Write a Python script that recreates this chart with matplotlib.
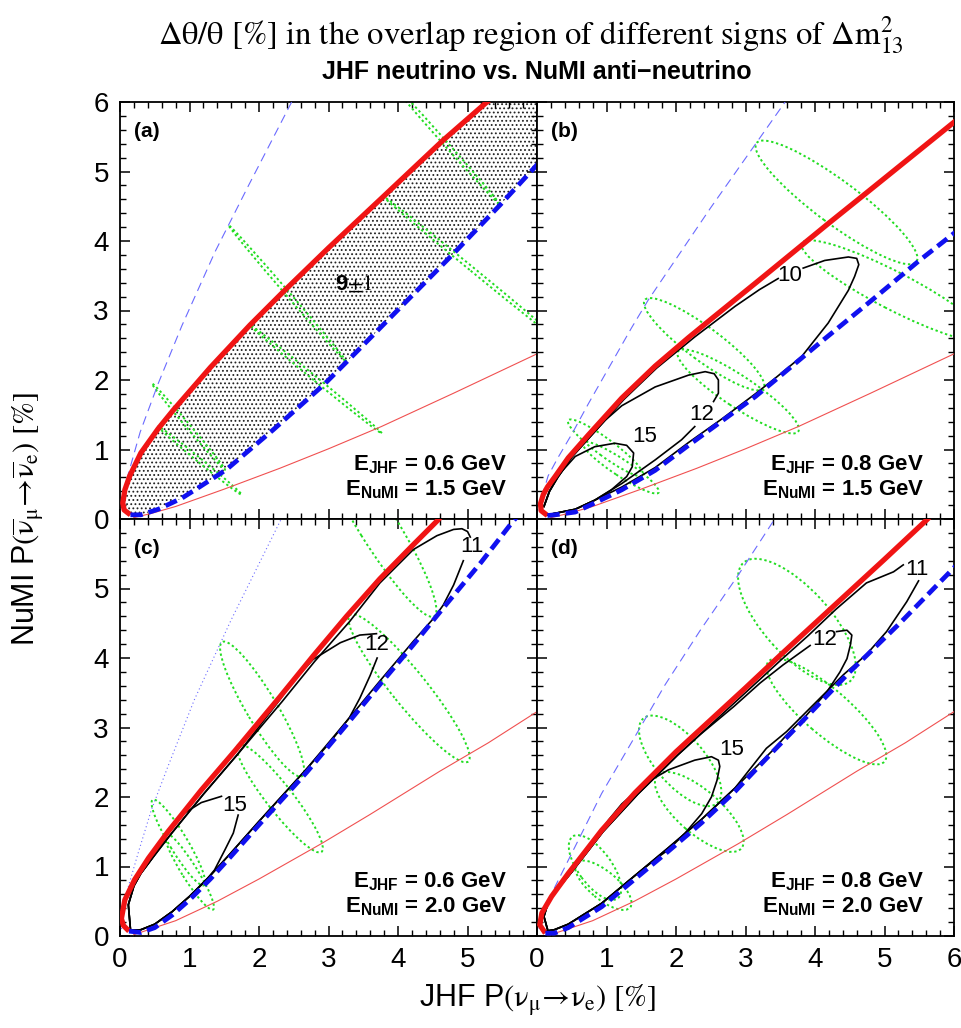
import numpy as np
import matplotlib
matplotlib.use('Agg')
import matplotlib.pyplot as plt
from matplotlib.patches import Ellipse, Polygon
from matplotlib.ticker import MultipleLocator

plt.rcParams['font.family'] = ['Liberation Sans', 'DejaVu Sans']
plt.rcParams['mathtext.fontset'] = 'custom'
plt.rcParams['mathtext.rm'] = 'Liberation Sans'
plt.rcParams['mathtext.bf'] = 'Liberation Sans:bold'
plt.rcParams['mathtext.it'] = 'Liberation Sans:italic'
plt.rcParams['hatch.linewidth'] = 0.8
NARROW = ['Liberation Sans Narrow', 'Liberation Sans', 'DejaVu Sans']
nan = np.nan

# ---------------- data ----------------
# panel (a): E_JHF = 0.6 GeV, E_NuMI = 1.5 GeV
a_red_x = [0.15, 0.06, 0.04, 0.07, 0.14, 0.30, 0.55, 0.77, 1.30, 1.87, 2.37, 3.00, 3.79, 4.65, 5.28, 5.34]
a_red_y = [0.06, 0.13, 0.23, 0.42, 0.62, 0.95, 1.30, 1.57, 2.18, 2.79, 3.29, 3.90, 4.64, 5.45, 6.00, 6.05]
a_blue_x = [0.15, 0.30, 0.55, 0.89, 1.08, 1.53, 2.20, 2.93, 3.26, 4.00, 4.80, 5.47, 6.05]
a_blue_y = [0.06, 0.06, 0.14, 0.30, 0.42, 0.71, 1.28, 1.93, 2.26, 3.01, 3.82, 4.52, 5.15]
a_thin_blue_x = [0.03, 0.12, 0.29, 0.55, 0.89, 1.37, 1.85, 2.47, 2.55]
a_thin_blue_y = [0.15, 0.65, 1.25, 1.95, 2.78, 3.85, 4.80, 6.00, 6.15]
# degenerate CP "ellipses" (x1, y1, x2, y2, minor axis)
a_ellipses = [(3.85, 6.34, 5.47, 4.52, 0.06), (3.79, 4.64, 6.34, 2.55, 0.06),
              (1.56, 4.23, 3.26, 2.26, 0.06), (1.87, 2.79, 3.77, 1.23, 0.06),
              (0.46, 1.95, 1.51, 0.71, 0.06), (0.55, 1.33, 1.75, 0.35, 0.06)]

# thin red curve, E_NuMI = 1.5 GeV (panels a, b)
thin_red15_x = [0.20, 0.45, 0.80, 1.50, 2.30, 3.00, 3.76, 4.80, 6.05]
thin_red15_y = [0.02, 0.08, 0.18, 0.43, 0.73, 1.01, 1.33, 1.81, 2.40]
# thin red curve, E_NuMI = 2.0 GeV (panels c, d)
thin_red20_x = [0.20, 0.80, 1.40, 2.00, 2.90, 3.60, 4.60, 5.30, 6.05]
thin_red20_y = [0.02, 0.22, 0.50, 0.82, 1.33, 1.75, 2.37, 2.78, 3.26]

# panel (b): E_JHF = 0.8 GeV, E_NuMI = 1.5 GeV
b_red_x = [0.15, 0.06, 0.05, 0.09, 0.15, 0.26, 0.45, 0.74, 1.22, 1.70, 2.18, 2.51, 3.20, 4.19, 4.70, 6.05]
b_red_y = [0.05, 0.12, 0.22, 0.35, 0.46, 0.61, 0.88, 1.21, 1.74, 2.20, 2.61, 2.88, 3.44, 4.25, 4.66, 5.75]
b_blue_x = [0.15, 0.26, 0.55, 0.83, 1.22, 1.70, 2.18, 2.66, 3.14, 3.43, 4.10, 4.82, 5.49, 6.05]
b_blue_y = [0.05, 0.06, 0.10, 0.23, 0.42, 0.70, 1.06, 1.41, 1.76, 2.00, 2.56, 3.15, 3.71, 4.15]
b_thin_blue_x = [0.03, 0.08, 0.16, 0.30, 0.50, 0.74, 1.07, 1.36, 1.60, 2.50, 3.57, 3.65]
b_thin_blue_y = [0.12, 0.35, 0.62, 0.88, 1.22, 1.66, 2.24, 2.75, 3.15, 4.48, 6.00, 6.12]
b_ellipses = [(3.16, 5.41, 5.46, 3.70, 0.62), (3.81, 3.97, 6.45, 2.60, 0.54),
              (1.55, 3.15, 3.26, 1.88, 0.48), (2.03, 2.41, 3.76, 1.26, 0.45),
              (0.45, 1.42, 1.52, 0.63, 0.25), (0.66, 1.10, 1.75, 0.38, 0.24)]
b_c10_x = [0.10, 0.18, 0.30, 0.50, 0.78, 1.25, 1.72, 2.27, 2.85, 3.20, 3.47, nan,
           3.83, 4.14, 4.48, 4.60, 4.63, 4.57, 4.48, 4.19, 3.81, 3.42, 3.14, 2.66, 2.18, 1.70, 1.22, 0.83, 0.55, 0.30, 0.15]
b_c10_y = [0.18, 0.40, 0.60, 0.89, 1.20, 1.72, 2.17, 2.62, 3.06, 3.30, 3.46, nan,
           3.61, 3.72, 3.77, 3.75, 3.66, 3.49, 3.29, 2.82, 2.34, 2.02, 1.80, 1.44, 1.10, 0.74, 0.46, 0.27, 0.14, 0.09, 0.06]
b_c12_x = [0.10, 0.18, 0.30, 0.50, 0.78, 0.98, 1.22, 1.70, 2.18, 2.42, 2.55, 2.61, 2.61, 2.54, nan,
           2.27, 2.08, 1.70, 1.22, 0.83, 0.55, 0.30, 0.15]
b_c12_y = [0.18, 0.40, 0.60, 0.89, 1.20, 1.42, 1.63, 1.90, 2.07, 2.12, 2.09, 2.00, 1.81, 1.69, nan,
           1.33, 1.14, 0.85, 0.51, 0.27, 0.14, 0.09, 0.06]
b_c15_x = [0.10, 0.18, 0.30, 0.55, 0.83, 1.12, 1.29, 1.39, 1.37, 1.29, 1.07, 0.83, 0.55, 0.30, 0.15]
b_c15_y = [0.18, 0.40, 0.62, 0.90, 1.04, 1.09, 1.06, 0.95, 0.75, 0.61, 0.42, 0.27, 0.14, 0.09, 0.06]
b_labels = [('10', 3.64, 3.51), ('12', 2.37, 1.50), ('15', 1.55, 1.18)]

# panel (c): E_JHF = 0.6 GeV, E_NuMI = 2.0 GeV
c_red_x = [0.13, 0.05, 0.02, 0.07, 0.21, 0.41, 0.69, 1.17, 1.65, 2.30, 2.78, 3.26, 3.74, 4.22, 4.58, 4.63]
c_red_y = [0.07, 0.15, 0.25, 0.52, 0.81, 1.12, 1.50, 2.10, 2.66, 3.44, 4.03, 4.60, 5.14, 5.63, 5.99, 6.05]
c_blue_x = [0.13, 0.30, 0.50, 0.75, 1.00, 1.30, 1.60, 2.00, 2.69, 3.26, 3.74, 4.22, 4.70, 5.19, 5.61, 5.70]
c_blue_y = [0.07, 0.05, 0.12, 0.30, 0.52, 0.82, 1.15, 1.60, 2.36, 3.04, 3.62, 4.19, 4.78, 5.37, 5.91, 6.02]
c_thin_blue_x = [0.02, 0.04, 0.12, 0.26, 0.45, 0.69, 1.07, 1.60, 2.30, 2.35]
c_thin_blue_y = [0.10, 0.33, 0.71, 1.19, 1.81, 2.44, 3.40, 4.55, 5.96, 6.06]
c_ellipses = [(2.89, 7.22, 4.52, 4.60, 0.55), (3.31, 4.62, 5.01, 2.51, 0.50),
              (1.47, 4.23, 2.62, 2.30, 0.44), (1.70, 2.75, 2.90, 1.21, 0.38),
              (0.47, 1.96, 1.21, 0.73, 0.26), (0.66, 1.47, 1.34, 0.38, 0.22)]
c_c11_x = [0.15, 0.12, 0.20, 0.30, 0.45, 0.72, 1.20, 1.68, 2.33, 2.80, 3.30, 3.74, 4.22, 4.56, 4.80, 4.92, 5.00, 5.04, nan,
           4.94, 4.80, 4.65, 4.52, 4.22, 3.74, 3.26, 2.69, 2.00, 1.60, 1.30, 1.00, 0.75, 0.50, 0.30, 0.15]
c_c11_y = [0.10, 0.45, 0.72, 0.90, 1.10, 1.45, 2.04, 2.60, 3.37, 3.95, 4.52, 5.08, 5.56, 5.76, 5.85, 5.86, 5.82, 5.74, nan,
           5.40, 5.05, 4.76, 4.58, 4.24, 3.67, 3.09, 2.41, 1.65, 1.20, 0.87, 0.57, 0.35, 0.17, 0.09, 0.08]
c_c12_x = [0.15, 0.12, 0.20, 0.30, 0.45, 0.72, 1.20, 1.68, 2.30, 2.45, 2.78, 3.17, 3.45, 3.69, nan,
           3.70, 3.60, 3.45, 3.30, 3.00, 2.69, 2.00, 1.60, 1.30, 1.00, 0.75, 0.50, 0.30, 0.15]
c_c12_y = [0.10, 0.45, 0.72, 0.90, 1.10, 1.45, 2.04, 2.60, 3.40, 3.62, 3.98, 4.22, 4.33, 4.35, nan,
           4.00, 3.75, 3.42, 3.14, 2.76, 2.41, 1.65, 1.20, 0.87, 0.57, 0.35, 0.17, 0.09, 0.08]
c_c15_x = [0.15, 0.12, 0.20, 0.30, 0.45, 0.62, 0.74, 0.93, 1.17, 1.46, nan,
           1.70, 1.63, 1.51, 1.36, 1.22, 1.00, 0.75, 0.50, 0.30, 0.15]
c_c15_y = [0.10, 0.45, 0.72, 0.90, 1.10, 1.36, 1.58, 1.77, 1.92, 2.01, nan,
           1.74, 1.48, 1.24, 0.95, 0.78, 0.57, 0.35, 0.17, 0.09, 0.08]
c_labels = [('11', 5.06, 5.60), ('12', 3.69, 4.19), ('15', 1.65, 1.88)]

# panel (d): E_JHF = 0.8 GeV, E_NuMI = 2.0 GeV
d_red_x = [0.12, 0.04, 0.07, 0.21, 0.45, 0.93, 1.41, 2.00, 2.50, 3.00, 3.50, 4.00, 4.50, 5.00, 5.61, 5.67]
d_red_y = [0.04, 0.16, 0.33, 0.57, 0.90, 1.52, 2.06, 2.65, 3.11, 3.57, 4.04, 4.50, 4.96, 5.42, 5.99, 6.05]
d_blue_x = [0.12, 0.25, 0.45, 0.93, 1.41, 1.89, 2.37, 2.85, 3.42, 3.78, 4.50, 5.22, 6.05]
d_blue_y = [0.04, 0.04, 0.12, 0.42, 0.82, 1.22, 1.63, 2.08, 2.68, 3.05, 3.80, 4.50, 5.35]
d_thin_blue_x = [0.03, 0.09, 0.26, 0.55, 0.93, 1.41, 1.84, 2.35, 2.90, 3.42, 3.50]
d_thin_blue_y = [0.10, 0.33, 0.71, 1.29, 2.05, 2.87, 3.61, 4.40, 5.20, 6.00, 6.12]
d_ellipses = [(2.97, 5.37, 4.51, 3.67, 0.95), (3.33, 3.95, 5.00, 2.51, 0.65),
              (1.53, 3.13, 2.59, 1.91, 0.70), (1.73, 2.31, 2.94, 1.26, 0.62),
              (0.51, 1.43, 1.16, 0.54, 0.48), (0.57, 1.05, 1.34, 0.41, 0.40)]
d_c11_x = [0.15, 0.10, 0.16, 0.30, 0.50, 0.95, 1.45, 2.02, 2.52, 3.02, 3.52, 3.90, 4.30, 4.74, 5.13, 5.27, nan,
           5.49, 5.32, 5.03, 4.74, 4.41, 4.02, 3.59, 3.30, 2.85, 2.37, 1.89, 1.41, 0.93, 0.45, 0.25, 0.12]
d_c11_y = [0.10, 0.28, 0.48, 0.68, 0.92, 1.50, 2.04, 2.60, 3.06, 3.52, 3.98, 4.32, 4.70, 5.08, 5.24, 5.34, nan,
           5.11, 4.81, 4.38, 4.05, 3.76, 3.37, 2.94, 2.70, 2.13, 1.68, 1.27, 0.87, 0.47, 0.17, 0.09, 0.07]
d_c12_x = [0.15, 0.10, 0.16, 0.30, 0.50, 0.95, 1.45, 2.02, 2.35, 2.83, 3.21, 3.54, 3.93, nan,
           4.31, 4.46, 4.53, 4.51, 4.46, 4.36, 4.17, 3.88, 3.59, 3.40, 2.85, 2.37, 1.89, 1.41, 0.93, 0.45, 0.25, 0.12]
d_c12_y = [0.10, 0.28, 0.48, 0.68, 0.92, 1.50, 2.04, 2.60, 2.90, 3.30, 3.64, 3.90, 4.18, nan,
           4.38, 4.40, 4.33, 4.19, 3.99, 3.80, 3.51, 3.18, 2.89, 2.68, 2.13, 1.68, 1.27, 0.87, 0.47, 0.17, 0.09, 0.07]
d_c15_x = [0.15, 0.10, 0.16, 0.30, 0.50, 0.80, 1.03, 1.22, 1.55, 1.89, 2.27, 2.51, 2.61, 2.63, 2.59, 2.51, 2.37,
           2.13, 1.89, 1.75, 1.41, 0.93, 0.45, 0.25, 0.12]
d_c15_y = [0.10, 0.28, 0.48, 0.68, 0.92, 1.34, 1.67, 1.90, 2.19, 2.39, 2.53, 2.58, 2.53, 2.44, 2.24, 2.00, 1.76,
           1.48, 1.24, 1.14, 0.87, 0.47, 0.17, 0.09, 0.07]
d_labels = [('11', 5.46, 5.27), ('12', 4.14, 4.26), ('15', 2.80, 2.68)]

panel_names = ['(a)', '(b)', '(c)', '(d)']
e_jhf = ['0.6', '0.8', '0.6', '0.8']
e_numi = ['1.5', '1.5', '2.0', '2.0']

# ---------------- styles ----------------
RED = '#f01414'
BLUE = '#1010f0'
THINBLUE = '#6a6aff'
THINRED = '#f05050'
GREEN = '#22dd22'

fig = plt.figure(figsize=(9.61, 10.28), dpi=100)
W, H = 961.0, 1028.0
pw = 417.0
lefts = [120.0, 537.0, 120.0, 537.0]
tops = [102.0, 102.0, 519.0, 519.0]
axes = []
for l, t in zip(lefts, tops):
    ax = fig.add_axes([l / W, 1 - (t + pw) / H, pw / W, pw / H])
    axes.append(ax)


def style_axis(ax, xlabels, ylabels):
    ax.set_xlim(0, 6)
    ax.set_ylim(0, 6)
    ax.xaxis.set_minor_locator(MultipleLocator(0.2))
    ax.yaxis.set_minor_locator(MultipleLocator(0.2))
    ax.tick_params(which='both', direction='in', top=True, right=True,
                   labelsize=20, pad=8)
    ax.tick_params(which='major', length=7.5, width=1.1)
    ax.tick_params(which='minor', length=4, width=1.0)
    ax.set_xticks(range(7))
    ax.set_yticks(range(7))
    ax.set_xticklabels(xlabels, family=NARROW)
    ax.set_yticklabels(ylabels, family=NARROW)
    for s in ax.spines.values():
        s.set_linewidth(1.3)


full = [str(i) for i in range(7)]
nolast = [str(i) for i in range(6)] + ['']
empty = [''] * 7
style_axis(axes[0], empty, full)
style_axis(axes[1], empty, empty)
style_axis(axes[2], nolast, nolast)
style_axis(axes[3], full, empty)


def add_ellipses(ax, ells):
    for x1, y1, x2, y2, mn in ells:
        cx, cy = (x1 + x2) / 2, (y1 + y2) / 2
        length = np.hypot(x2 - x1, y2 - y1)
        ang = np.degrees(np.arctan2(y2 - y1, x2 - x1))
        e = Ellipse((cx, cy), length, mn, angle=ang, fill=False,
                    edgecolor=GREEN, lw=1.4, linestyle=(0, (1.2, 1.4)), zorder=2)
        ax.add_patch(e)


def main_curves(ax, rx, ry, bx, by, tbx, tby, trx, try_, thin_style):
    ax.plot(tbx, tby, color=THINBLUE, lw=0.8, linestyle=thin_style, zorder=3)
    ax.plot(trx, try_, color=THINRED, lw=0.8, zorder=3)
    ax.plot(rx, ry, color=RED, lw=3.8, solid_capstyle='butt', solid_joinstyle='round', zorder=5)
    ax.plot(bx, by, color=BLUE, lw=3.4, linestyle=(0, (2.6, 1.3)), zorder=6)


def contours(ax, curves, labels):
    for cx, cy in curves:
        ax.plot(cx, cy, color='black', lw=1.2, zorder=4)
    for txt, x, y in labels:
        ax.text(x, y, txt, fontsize=16, ha='center', va='center', zorder=7)


# panel (a) shading between the two thick curves
poly_x = list(a_red_x) + [6.2] + list(a_blue_x[::-1])
poly_y = list(a_red_y) + [6.2] + list(a_blue_y[::-1])
shade = Polygon(np.column_stack([poly_x, poly_y]), closed=True, facecolor='white',
                edgecolor='#222222', hatch='....', lw=0, zorder=1)
axes[0].add_patch(shade)

add_ellipses(axes[0], a_ellipses)
main_curves(axes[0], a_red_x, a_red_y, a_blue_x, a_blue_y, a_thin_blue_x, a_thin_blue_y,
            thin_red15_x, thin_red15_y, (0, (8, 5)))
axes[0].text(3.28, 3.29, '9', fontsize=16, fontweight='bold', ha='right', va='baseline', zorder=7)
axes[0].text(3.28, 3.29, '±1', fontsize=16, family='STIXGeneral', ha='left', va='baseline', zorder=7)

add_ellipses(axes[1], b_ellipses)
main_curves(axes[1], b_red_x, b_red_y, b_blue_x, b_blue_y, b_thin_blue_x, b_thin_blue_y,
            thin_red15_x, thin_red15_y, (0, (8, 5)))
contours(axes[1], [(b_c10_x, b_c10_y), (b_c12_x, b_c12_y), (b_c15_x, b_c15_y)], b_labels)

add_ellipses(axes[2], c_ellipses)
main_curves(axes[2], c_red_x, c_red_y, c_blue_x, c_blue_y, c_thin_blue_x, c_thin_blue_y,
            thin_red20_x, thin_red20_y, (0, (1, 2.5)))
contours(axes[2], [(c_c11_x, c_c11_y), (c_c12_x, c_c12_y), (c_c15_x, c_c15_y)], c_labels)

add_ellipses(axes[3], d_ellipses)
main_curves(axes[3], d_red_x, d_red_y, d_blue_x, d_blue_y, d_thin_blue_x, d_thin_blue_y,
            thin_red20_x, thin_red20_y, (0, (8, 5)))
contours(axes[3], [(d_c11_x, d_c11_y), (d_c12_x, d_c12_y), (d_c15_x, d_c15_y)], d_labels)

for i, ax in enumerate(axes):
    ax.text(0.20, 5.50, panel_names[i], fontsize=15, fontweight='bold', ha='left',
            va='baseline', zorder=8)
    ax.text(5.57, 0.70, r'$\mathbf{E}_{\mathbf{JHF}}$ = ' + e_jhf[i] + ' GeV', fontsize=16,
            fontweight='bold', ha='right', va='baseline', zorder=8)
    ax.text(5.57, 0.34, r'$\mathbf{E}_{\mathbf{NuMI}}$ = ' + e_numi[i] + ' GeV', fontsize=16,
            fontweight='bold', ha='right', va='baseline', zorder=8)

fig.text(531 / W, 1 - 35 / H,
         r'Δθ/θ [%] in the overlap region of different signs of Δ$\mathrm{m}^{2}_{13}$',
         family='STIXGeneral', math_fontfamily='stix', fontsize=23.5, ha='center', va='center')
fig.text(537 / W, 1 - 72 / H, 'JHF neutrino vs. NuMI anti\u2212neutrino', fontsize=18,
         fontweight='bold', ha='center', va='center')
fig.text(537 / W, 1 - 1000 / H,
         r'JHF P$(\mathrm{ν}_{\mathrm{μ}}\!\rightarrow\!\mathrm{ν}_{\mathrm{e}})\ [\%]$',
         family=NARROW, math_fontfamily='stix', fontsize=22, ha='center', va='center')
fig.text(28 / W, 1 - 519 / H,
         r'NuMI P$(\overline{\mathrm{ν}}_{\mathrm{μ}}\!\rightarrow\!\overline{\mathrm{ν}}_{\mathrm{e}})\ [\%]$',
         family=NARROW, math_fontfamily='stix', fontsize=22, ha='center', va='center',
         rotation=90)

fig.savefig('out.png', dpi=100)
